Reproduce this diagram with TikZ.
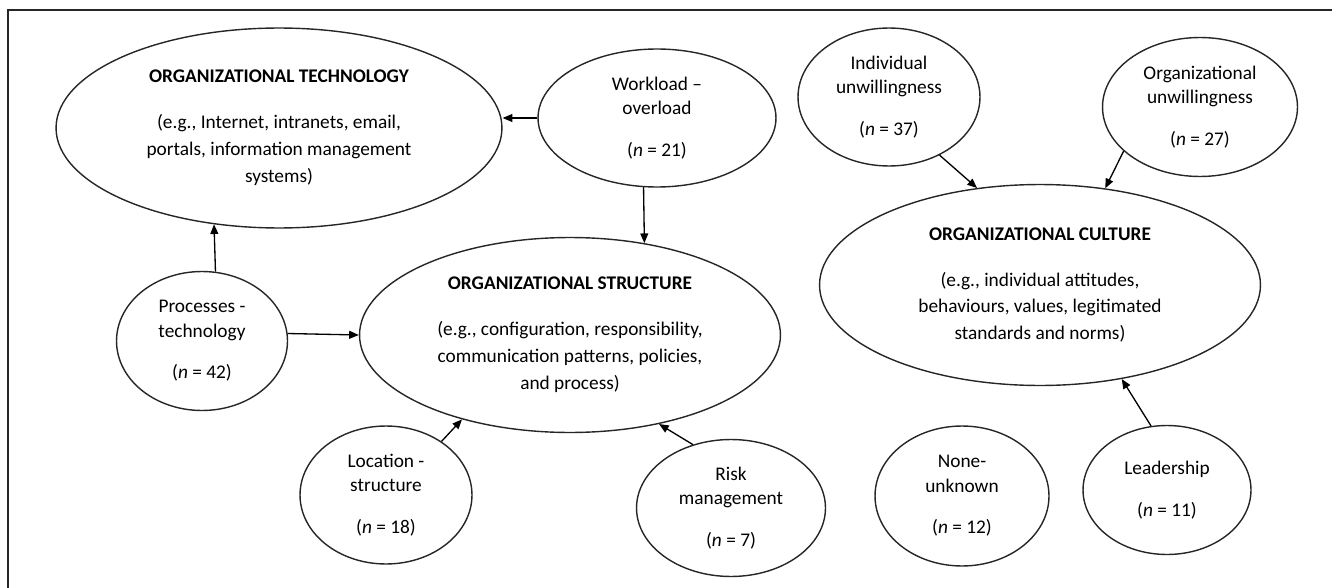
\documentclass[tikz,border=0pt]{standalone}
\usepackage{fontspec}
\setmainfont{Carlito}
\usetikzlibrary{shapes.geometric,arrows.meta}

\begin{document}
\begin{tikzpicture}[x=0.02cm, y=-0.02cm,
    big/.style={ellipse, draw=black!85, line width=0.8pt, inner sep=-4pt, align=center,
        font=\fontsize{11}{15.3}\selectfont},
    bub/.style={ellipse, draw=black!85, line width=0.8pt, inner sep=-4pt, align=center,
        font=\fontsize{11}{13.8}\selectfont},
    arr/.style={-{Triangle[length=5.5pt,width=4.5pt]}, line width=0.75pt}
]
    \useasboundingbox (0,0) rectangle (1332,588);
    % frame
    \draw[line width=0.8pt, black!85] (8,588) -- (8,10) -- (1332,10);

    % main themes
    \node[big, minimum width=8.92cm, minimum height=4cm] (tech) at (279,128)
        {\textbf{ORGANIZATIONAL TECHNOLOGY}\\[10.8pt](e.g., Internet, intranets, email,\\portals, information management\\systems)};
    \node[big, minimum width=8.42cm, minimum height=3.9cm] (struct) at (570,335)
        {\textbf{ORGANIZATIONAL STRUCTURE}\\[10.8pt](e.g., configuration, responsibility,\\communication patterns, policies,\\and process)};
    \node[big, minimum width=8.82cm, minimum height=4.02cm] (culture) at (1040,285)
        {\textbf{ORGANIZATIONAL CULTURE}\\[10.8pt](e.g., individual attitudes,\\behaviours, values, legitimated\\standards and norms)};

    % factors
    \node[bub, minimum width=4.76cm, minimum height=2.76cm] (work) at (657,118)
        {Workload --\\overload\\[10pt](\textit{n} = 21)};
    \node[bub, minimum width=3.64cm, minimum height=2.76cm] (indiv) at (889,97)
        {Individual\\unwillingness\\[10pt](\textit{n} = 37)};
    \node[bub, minimum width=3.9cm, minimum height=2.78cm] (orgun) at (1200,107)
        {Organizational\\unwillingness\\[10pt](\textit{n} = 27)};
    \node[bub, minimum width=3.42cm, minimum height=2.78cm] (proc) at (202,341)
        {Processes -\\technology\\[10pt](\textit{n} = 42)};
    \node[bub, minimum width=3.44cm, minimum height=2.76cm] (loc) at (386,495)
        {Location -\\structure\\[10pt](\textit{n} = 18)};
    \node[bub, minimum width=3.78cm, minimum height=2.74cm] (risk) at (731,508)
        {Risk\\management\\[10pt](\textit{n} = 7)};
    \node[bub, minimum width=3.48cm, minimum height=2.8cm] (none) at (962,496)
        {None-\\unknown\\[10pt](\textit{n} = 12)};
    \node[bub, minimum width=3.36cm, minimum height=2.58cm] (lead) at (1167,490)
        {Leadership\\[10pt](\textit{n} = 11)};

    % links
    \draw[arr] (work.west) -- (work.west -| tech.east);
    \draw[arr] (work.259) -- (struct.51);
    \draw[arr] (proc.79) -- (tech.236);
    \draw[arr] (proc.5) -- (struct.180);
    \draw[arr] (loc.44) -- (struct.218);
    \draw[arr] (risk.121.5) -- (struct.315.3);
    \draw[arr] (indiv.311.4) -- (culture.123.7);
    \draw[arr] (orgun.210.3) -- (culture.56.9);
    \draw[arr] (lead.104) -- (culture.311.6);
\end{tikzpicture}
\end{document}
